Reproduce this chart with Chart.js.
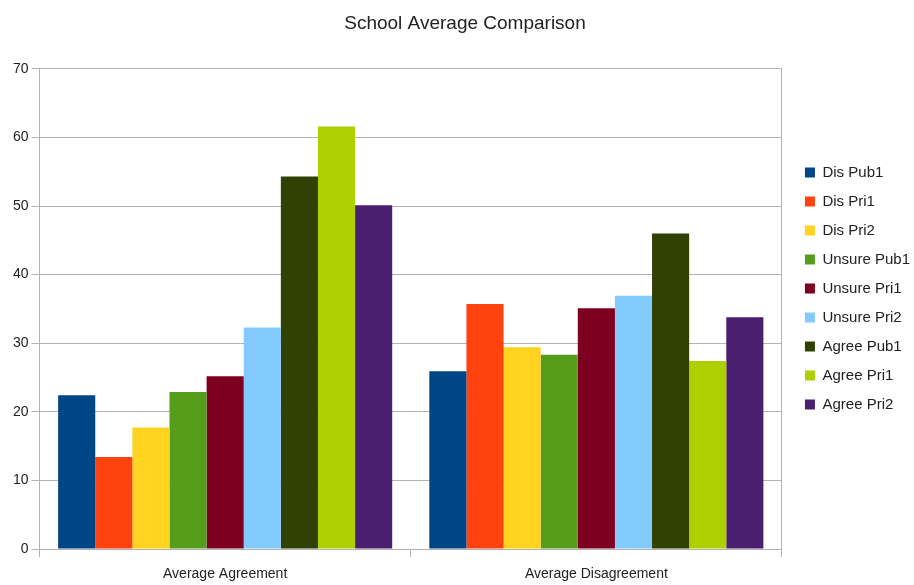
<!DOCTYPE html>
<html>
<head>
<meta charset="utf-8">
<script src="https://cdn.jsdelivr.net/npm/chart.js@4"></script>
<style>
  html, body { margin: 0; padding: 0; background: #fff; }
  #wrap { width: 914px; height: 585px; }
</style>
</head>
<body>
<div id="wrap"><canvas id="chart" width="914" height="585"></canvas></div>
<script>
// categories and series
const categories = ['Average Agreement', 'Average Disagreement'];
const seriesNames = ['Dis Pub1', 'Dis Pri1', 'Dis Pri2', 'Unsure Pub1', 'Unsure Pri1',
                     'Unsure Pri2', 'Agree Pub1', 'Agree Pri1', 'Agree Pri2'];
const seriesColors = ['#004586', '#ff420e', '#ffd320', '#579d1c', '#7e0021',
                      '#83caff', '#314004', '#aecf00', '#4b1f6f'];
const disPub1 = [22.4, 25.9];
const disPri1 = [13.4, 35.7];
const disPri2 = [17.7, 29.4];
const unsurePub1 = [22.9, 28.3];
const unsurePri1 = [25.2, 35.1];
const unsurePri2 = [32.3, 36.9];
const agreePub1 = [54.3, 46.0];
const agreePri1 = [61.6, 27.4];
const agreePri2 = [50.1, 33.8];
const yTicks = [0, 10, 20, 30, 40, 50, 60, 70];

const seriesValues = [disPub1, disPri1, disPri2, unsurePub1, unsurePri1,
                      unsurePri2, agreePub1, agreePri1, agreePri2];

const gridColor = '#b3b3b3';
const textColor = '#222';
const fontFamily = '"Liberation Sans", Arial, sans-serif';

const ctx = document.getElementById('chart').getContext('2d');
new Chart(ctx, {
    type: 'bar',
    data: {
        labels: categories,
        datasets: seriesNames.map((name, i) => ({
            label: name,
            data: seriesValues[i],
            backgroundColor: seriesColors[i],
            borderWidth: 0,
            categoryPercentage: 0.9,
            barPercentage: 1.0
        }))
    },
    options: {
        responsive: false,
        animation: false,
        // negative top padding lifts the legend a little; the title pads itself back down
        layout: { padding: { left: 10, right: -6, top: -8, bottom: 0 } },
        plugins: {
            title: {
                display: true,
                text: 'School Average Comparison',
                color: textColor,
                font: { family: fontFamily, size: 19, weight: 'normal' },
                padding: { top: 20, bottom: 34 }
            },
            legend: {
                position: 'right',
                labels: {
                    color: textColor,
                    font: { family: fontFamily, size: 15 },
                    boxWidth: 10,
                    boxHeight: 10,
                    padding: 14
                }
            },
            tooltip: { enabled: false }
        },
        scales: {
            x: {
                grid: {
                    offset: true,
                    drawOnChartArea: false,
                    drawTicks: true,
                    tickLength: 8,
                    color: gridColor
                },
                border: { color: gridColor },
                ticks: {
                    color: textColor,
                    font: { family: fontFamily, size: 14 },
                    padding: 9
                },
                afterFit(axis) { axis.height = 36; }
            },
            y: {
                min: 0,
                max: 70,
                afterBuildTicks(axis) {
                    axis.ticks = yTicks.map(v => ({ value: v }));
                },
                grid: { color: gridColor, tickLength: 8 },
                border: { color: gridColor },
                ticks: {
                    color: textColor,
                    font: { family: fontFamily, size: 14 },
                    padding: 3
                }
            },
            // empty right axis: frames the plot and spaces the legend
            y1: {
                position: 'right',
                min: 0,
                max: 70,
                grid: { display: false },
                border: { color: gridColor },
                ticks: { display: false },
                afterFit(axis) { axis.width = 9; }
            }
        }
    }
});
</script>
</body>
</html>
